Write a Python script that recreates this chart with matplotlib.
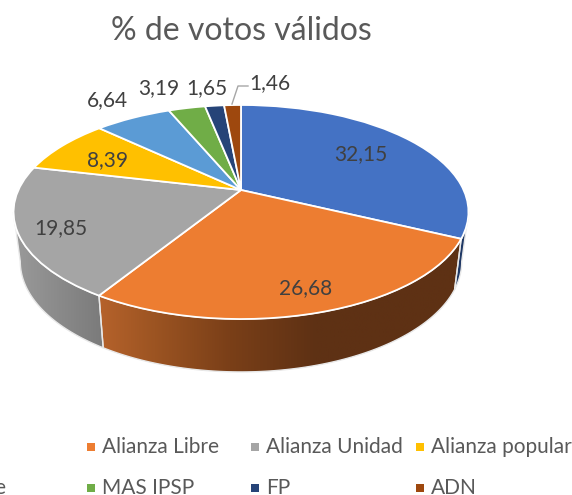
import numpy as np
import matplotlib
matplotlib.use('Agg')
import matplotlib.pyplot as plt
from matplotlib.colors import LinearSegmentedColormap
from matplotlib.patches import Polygon
from matplotlib.transforms import Transform

plt.rcParams['font.family'] = ['Lato', 'DejaVu Sans']

# data
names = ['', 'Alianza Libre', 'Alianza Unidad', 'Alianza popular', 'e', 'MAS IPSP', 'FP', 'ADN']
values = [32.15, 26.68, 19.85, 8.39, 6.64, 3.19, 1.65, 1.46]
value_labels = ['32,15', '26,68', '19,85', '8,39', '6,64', '3,19', '1,65', '1,46']
colors = ['#4472C4', '#ED7D31', '#A5A5A5', '#FFC000', '#5B9BD5', '#70AD47', '#264478', '#9E480E']

label_pos = [(361, 154), (306, 288), (61, 228), (107, 160), (107, 100), (159, 88), (207, 88), (270, 83)]
legend_pos = [None, (91, 447), (255, 447), (420, 447), (-100, 488), (91, 488), (255, 488), (420, 488)]

# side wall shading: slice -> (x from, x to, colour stops)
wall_ramps = {
    0: (241, 470, [(0.0, '#1F3864'), (1.0, '#1F3864')]),
    1: (100, 460, [(0.0, '#B5622B'), (0.15, '#9C5422'), (0.36, '#7A3F18'), (0.6, '#5E3114'), (1.0, '#5E3114')]),
    2: (14, 105, [(0.0, '#9A9A9A'), (1.0, '#7A7A7A')]),
}


# tilted disc: unit circle to pixels, far edge is squeezed
class Tilt(Transform):
    input_dims = 2
    output_dims = 2

    def __init__(self, x0, y0, bx, ay, c=0.2056):
        super().__init__()
        self.x0, self.y0, self.bx, self.ay, self.c = x0, y0, bx, ay, c

    def transform_non_affine(self, pts):
        pts = np.asarray(pts)
        d = 1 + self.c * pts[:, 1]
        return np.column_stack([self.x0 + self.bx * pts[:, 0] / d,
                                self.y0 - self.ay * pts[:, 1] / d])


top_face = Tilt(241, 190, 222.6, 102.5)
bottom_face = Tilt(241, 239, 216, 105.6)

fig = plt.figure(figsize=(5.72, 4.95), dpi=100)
ax = fig.add_axes([0, 0, 1, 1])

fracs = np.array(values) / sum(values)
edges = np.concatenate([[0], np.cumsum(fracs)]) * 2 * np.pi

# only the front of the rim shows, between the two widest points of the disc
front_from = np.arccos(-top_face.c)
front_to = 2 * np.pi - front_from

for i, (x1, x2, ramp) in wall_ramps.items():
    t = np.linspace(max(edges[i], front_from), min(edges[i + 1], front_to), 100)
    rim = np.column_stack([np.sin(t), np.cos(t)])
    outline = np.vstack([top_face.transform_non_affine(rim),
                         bottom_face.transform_non_affine(rim)[::-1]])
    poly = Polygon(outline, closed=True, facecolor='none', edgecolor='#E8E8E8', lw=1.0, zorder=2.5)
    ax.add_patch(poly)
    grad = np.linspace(0, 1, 256).reshape(1, -1)
    cmap = LinearSegmentedColormap.from_list('wall%d' % i, ramp)
    im = ax.imshow(grad, cmap=cmap, extent=(x1, x2, 400, 100), aspect='auto', zorder=2)
    im.set_clip_path(poly)

wedges, _ = ax.pie(values, colors=colors, startangle=90, counterclock=False,
                   wedgeprops={'edgecolor': 'white', 'linewidth': 1.3, 'zorder': 3})
for w in wedges:
    w.set_transform(top_face + ax.transData)

ax.set_aspect('auto')
ax.set_xlim(0, 572)
ax.set_ylim(495, 0)
ax.axis('off')

ax.text(241, 31, '% de votos válidos', ha='center', va='center', fontsize=23, color='#595959', zorder=5)

for txt, (x, y) in zip(value_labels, label_pos):
    ax.text(x, y, txt, ha='center', va='center', fontsize=15, color='#404040', zorder=5)

# leader line of the smallest slice
ax.plot([232, 238, 248], [104, 86, 86], color='#A6A6A6', lw=1, zorder=4)

for name, col, pos in zip(names, colors, legend_pos):
    if pos is None:
        continue
    if name == 'e':
        ax.text(5, pos[1], name, ha='right', va='center', fontsize=15, color='#595959', zorder=5)
        continue
    ax.scatter([pos[0]], [pos[1]], marker='s', s=28, color=col, linewidths=0, zorder=5)
    ax.text(pos[0] + 11, pos[1], name, ha='left', va='center', fontsize=15, color='#595959', zorder=5)

fig.savefig('out.png', dpi=100)
